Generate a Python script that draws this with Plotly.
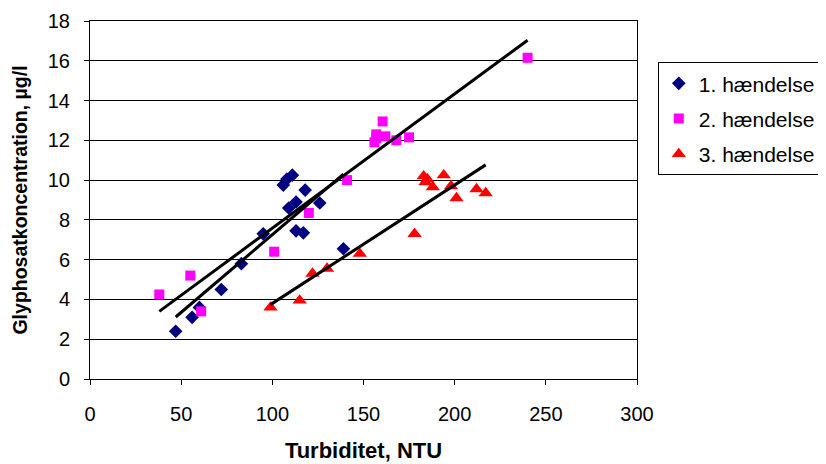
import numpy as np
import plotly.graph_objects as go

# Series 1: 1. hændelse
x1 = [47, 56, 60, 72, 83, 95, 106, 108, 111, 118, 113, 109, 126, 113, 117, 139]
y1 = [2.4, 3.1, 3.6, 4.5, 5.8, 7.3, 9.75, 10.05, 10.25, 9.5, 8.9, 8.6, 8.85, 7.45, 7.35, 6.55]
# Series 2: 2. hændelse
x2 = [38, 55, 61, 101, 120, 141, 160.5, 157, 156, 162, 168, 175, 157, 240]
y2 = [4.25, 5.2, 3.4, 6.4, 8.35, 10.0, 12.95, 12.3, 11.9, 12.2, 12.0, 12.15, 12.1, 16.15]
# Series 3: 3. hændelse
x3 = [99, 115, 122, 130, 148, 178, 183, 185, 184, 188, 194, 198, 201, 212, 217]
y3 = [3.6, 3.95, 5.3, 5.55, 6.3, 7.3, 10.2, 10.05, 9.9, 9.65, 10.25, 9.7, 9.1, 9.55, 9.35]

names = ["1. hændelse", "2. hændelse", "3. hændelse"]
x_ticks = [0, 50, 100, 150, 200, 250, 300]
y_ticks = [0, 2, 4, 6, 8, 10, 12, 14, 16, 18]

series = [
    (x1, y1, "diamond", "#000080", 10.5),
    (x2, y2, "square", "#FF00FF", 10),
    (x3, y3, "triangle-up", "#FF0000", 12.5),
]

fig = go.Figure()
for i, (xs, ys, sym, col, sz) in enumerate(series):
    fig.add_trace(go.Scatter(
        x=xs, y=ys, mode="markers", name=names[i], legendgroup=str(i),
        marker=dict(symbol=sym, color=col, size=sz, line=dict(width=0)),
    ))

# linear trendlines (least squares through each series)
for i, (xs, ys, sym, col, sz) in enumerate(series):
    a, b = np.polyfit(xs, ys, 1)
    xr = np.array([min(xs), max(xs)])
    fig.add_trace(go.Scatter(
        x=xr, y=a * xr + b, mode="lines", showlegend=False, legendgroup=str(i),
        line=dict(color="black", width=3), hoverinfo="skip",
    ))

font_family = "Liberation Sans, Arial, sans-serif"
fig.update_layout(
    width=826, height=464,
    margin=dict(l=82, r=197, t=13, b=93),
    paper_bgcolor="white", plot_bgcolor="white",
    font=dict(family=font_family, size=20, color="black"),
    showlegend=True,
    legend=dict(
        x=1.038, y=0.885, xanchor="left", yanchor="top",
        xref="paper", yref="paper",
        bordercolor="black", borderwidth=1, bgcolor="white",
        font=dict(size=21), tracegroupgap=5, traceorder="grouped",
    ),
    xaxis=dict(
        range=[0, 300], tickvals=x_ticks, ticktext=[str(v) for v in x_ticks],
        showgrid=False, zeroline=False, showline=True, linecolor="black", linewidth=1,
        mirror=True, ticks="outside", ticklen=5, tickcolor="black",
        ticklabelstandoff=12, automargin=False,
        title=dict(text="<b>Turbiditet, NTU</b>", font=dict(size=22), standoff=18),
        tickfont=dict(size=20),
    ),
    yaxis=dict(
        range=[0, 18], tickvals=y_ticks, ticktext=[str(v) for v in y_ticks],
        showgrid=True, gridcolor="black", gridwidth=1, zeroline=False,
        showline=True, linecolor="black", linewidth=1, mirror=True,
        ticks="outside", ticklen=5, tickcolor="black",
        ticklabelstandoff=10, automargin=False,
        title=dict(text="<b>Glyphosatkoncentration, µg/l</b>", font=dict(size=19.5), standoff=14),
        tickfont=dict(size=20),
    ),
)

fig.write_html("out.html")
